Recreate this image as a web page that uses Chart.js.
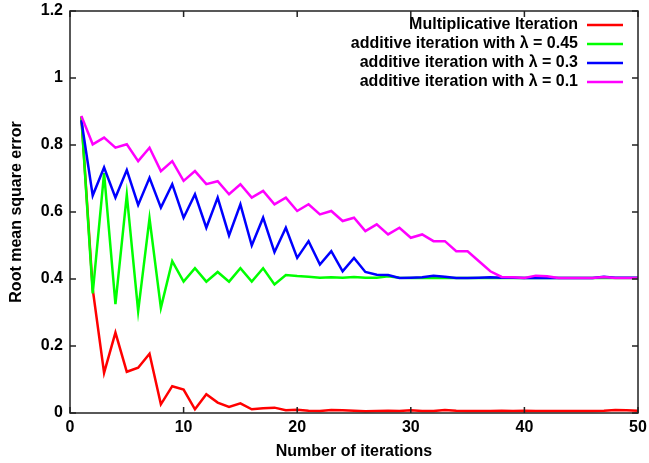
<!DOCTYPE html>
<html>
<head>
<meta charset="utf-8">
<script src="https://cdn.jsdelivr.net/npm/chart.js@4/dist/chart.umd.min.js"></script>
<style>
  html, body { margin: 0; padding: 0; background: #fff; }
  #wrap { width: 649px; height: 463px; position: relative; }
</style>
</head>
<body>
<div id="wrap"><canvas id="chart"></canvas></div>
<script>
// --- data ---
const iterations = [1,2,3,4,5,6,7,8,9,10,11,12,13,14,15,16,17,18,19,20,
  21,22,23,24,25,26,27,28,29,30,31,32,33,34,35,36,37,38,39,40,
  41,42,43,44,45,46,47,48,49,50];

const multiplicative = [0.885,0.37,0.12,0.24,0.123,0.135,0.177,0.026,0.08,0.07,
  0.011,0.056,0.031,0.018,0.029,0.011,0.014,0.016,0.008,0.01,
  0.007,0.006,0.009,0.008,0.007,0.005,0.006,0.007,0.006,0.008,
  0.006,0.006,0.009,0.007,0.006,0.006,0.006,0.007,0.006,0.007,
  0.006,0.006,0.006,0.006,0.006,0.006,0.007,0.009,0.008,0.007];

const additive045 = [0.883,0.357,0.716,0.325,0.651,0.304,0.581,0.314,0.453,0.392,
  0.432,0.392,0.421,0.392,0.432,0.392,0.432,0.384,0.412,0.409,
  0.407,0.404,0.405,0.404,0.406,0.404,0.404,0.408,0.404,0.403,
  0.403,0.403,0.403,0.403,0.403,0.403,0.403,0.403,0.403,0.403,
  0.403,0.403,0.403,0.403,0.403,0.403,0.403,0.403,0.403,0.403];

const additive03 = [0.874,0.649,0.733,0.643,0.725,0.621,0.702,0.613,0.683,0.583,
  0.653,0.553,0.643,0.53,0.623,0.5,0.583,0.48,0.553,0.463,
  0.513,0.443,0.483,0.423,0.463,0.421,0.413,0.412,0.403,0.404,
  0.405,0.41,0.407,0.403,0.403,0.404,0.405,0.404,0.404,0.403,
  0.403,0.403,0.403,0.403,0.403,0.403,0.407,0.404,0.404,0.404];

const additive01 = [0.887,0.802,0.822,0.792,0.802,0.752,0.792,0.722,0.752,0.693,
  0.722,0.683,0.692,0.653,0.683,0.643,0.663,0.623,0.643,0.603,
  0.623,0.593,0.603,0.573,0.583,0.543,0.563,0.533,0.553,0.523,
  0.533,0.513,0.513,0.483,0.483,0.453,0.423,0.406,0.405,0.403,
  0.41,0.408,0.403,0.403,0.403,0.403,0.406,0.403,0.403,0.403];

const seriesLabels = [
  'Multiplicative Iteration',
  'additive iteration with λ = 0.45',
  'additive iteration with λ = 0.3',
  'additive iteration with λ = 0.1'
];
const seriesColors = ['#ff0000', '#00ff00', '#0000ff', '#ff00ff'];

const xTicks = [0, 10, 20, 30, 40, 50];
const yTicks = [0, 0.2, 0.4, 0.6, 0.8, 1, 1.2];

const FONT = '"Liberation Sans", Arial, Helvetica, sans-serif';

// scales should not push the plot area in; layout.padding decides it
function noScalePadding(s) {
  s.paddingTop = 0; s.paddingBottom = 0;
  s.paddingLeft = 0; s.paddingRight = 0;
}

// gnuplot-like frame with inward ticks on all four sides + key at top right
const gnuplotFrame = {
  id: 'gnuplotFrame',
  afterDraw(chart) {
    const { ctx, chartArea: a, scales } = chart;
    const tick = 6;
    ctx.save();
    ctx.strokeStyle = '#222';
    ctx.lineWidth = 1.5;
    ctx.strokeRect(a.left, a.top, a.right - a.left, a.bottom - a.top);
    ctx.beginPath();
    xTicks.forEach(v => {
      const px = scales.x.getPixelForValue(v);
      ctx.moveTo(px, a.bottom); ctx.lineTo(px, a.bottom - tick);
      ctx.moveTo(px, a.top); ctx.lineTo(px, a.top + tick);
    });
    yTicks.forEach(v => {
      const py = scales.y.getPixelForValue(v);
      ctx.moveTo(a.left, py); ctx.lineTo(a.left + tick, py);
      ctx.moveTo(a.right, py); ctx.lineTo(a.right - tick, py);
    });
    ctx.stroke();

    // key
    ctx.font = 'bold 16px ' + FONT;
    ctx.textAlign = 'right';
    ctx.textBaseline = 'middle';
    chart.data.datasets.forEach((ds, i) => {
      const y = 25 + i * 19;
      ctx.fillStyle = '#000';
      ctx.fillText(ds.label, 578, y);
      ctx.strokeStyle = ds.borderColor;
      ctx.lineWidth = 2.5;
      ctx.beginPath();
      ctx.moveTo(587, y); ctx.lineTo(623, y);
      ctx.stroke();
    });
    ctx.restore();
  }
};

const allSeries = [multiplicative, additive045, additive03, additive01];

new Chart(document.getElementById('chart'), {
  type: 'line',
  data: {
    datasets: allSeries.map((vals, i) => ({
      label: seriesLabels[i],
      data: iterations.map((it, j) => ({ x: it, y: vals[j] })),
      borderColor: seriesColors[i],
      backgroundColor: seriesColors[i],
      borderWidth: 2.5,
      pointRadius: 0,
      tension: 0,
      fill: false,
      order: allSeries.length - i
    }))
  },
  options: {
    responsive: true,
    maintainAspectRatio: false,
    animation: false,
    layout: { padding: { top: 11, right: 11, left: 0, bottom: 0 } },
    plugins: {
      legend: { display: false },
      tooltip: { enabled: false }
    },
    scales: {
      x: {
        type: 'linear',
        min: 0, max: 50,
        afterBuildTicks: s => { s.ticks = xTicks.map(v => ({ value: v })); },
        afterFit: s => { s.height = 50; noScalePadding(s); },
        grid: { display: false, drawTicks: false },
        border: { display: false },
        ticks: { color: '#000', padding: 5, font: { family: FONT, size: 16, weight: 'bold' } },
        title: {
          display: true,
          text: 'Number of iterations',
          color: '#000',
          padding: { top: 0, bottom: 2 },
          font: { family: FONT, size: 16, weight: 'bold' }
        }
      },
      y: {
        min: 0, max: 1.2,
        afterBuildTicks: s => { s.ticks = yTicks.map(v => ({ value: v })); },
        afterFit: s => { s.width = 70; noScalePadding(s); },
        grid: { display: false, drawTicks: false },
        border: { display: false },
        ticks: { color: '#000', padding: 7, font: { family: FONT, size: 16, weight: 'bold' },
          callback: v => String(v) },
        title: {
          display: true,
          text: 'Root mean square error',
          color: '#000',
          padding: { top: 7, bottom: 0 },
          font: { family: FONT, size: 16, weight: 'bold' }
        }
      }
    }
  },
  plugins: [gnuplotFrame]
});
</script>
</body>
</html>
